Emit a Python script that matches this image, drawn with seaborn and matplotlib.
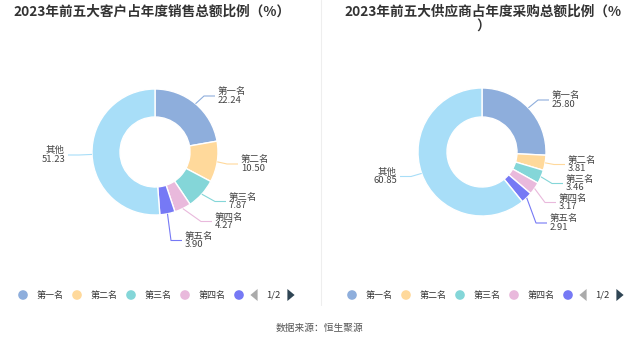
import numpy as np
import pandas as pd
import matplotlib
matplotlib.use("Agg")
import matplotlib.pyplot as plt
import seaborn as sns

sns.set_theme(style="white")
plt.rcParams["font.family"] = ["Noto Sans CJK SC", "DejaVu Sans"]

# ---------------- data ----------------
categories = ["第一名", "第二名", "第三名", "第四名", "第五名", "其他"]
customer_share = [22.24, 10.50, 7.87, 4.27, 3.90, 51.23]
supplier_share = [25.80, 3.81, 3.46, 3.17, 2.91, 60.85]
titles = ["2023年前五大客户占年度销售总额比例（%）",
          "2023年前五大供应商占年度采购总额比例（%\n）"]
legend_labels = categories[:5]
source_text = "数据来源：恒生聚源"

# ---------------- style / layout ----------------
colors = ["#8eaedc", "#ffd99b", "#84d6d8", "#e9b9dc", "#7679f5", "#a8def8"]
W, H = 637, 344
TXT = "#444444"

panels = [
    dict(data=customer_share, cx=155, cy=152, ro=63, ri=35, title_x=152,
         labels=[(218, 96, "left"), (241, 164, "left"), (229, 201.5, "left"),
                 (215, 221.5, "left"), (185, 240.5, "left"), (65, 155, "right")],
         leg_x=23),
    dict(data=supplier_share, cx=482, cy=152, ro=64, ri=35, title_x=483,
         labels=[(552, 100, "left"), (568, 164.5, "left"), (566, 183.5, "left"),
                 (559, 202.5, "left"), (550, 223, "left"), (397, 176.5, "right")],
         leg_x=352),
]

fig = plt.figure(figsize=(W / 100, H / 100), dpi=100)
fig.patch.set_facecolor("white")
ax = fig.add_axes([0, 0, 1, 1])

def Y(y):
    return H - y

for k, p in enumerate(panels):
    df = pd.DataFrame({"cat": categories, "val": p["data"]})
    ax.pie(df["val"], colors=colors, startangle=90, counterclock=False,
           center=(p["cx"], Y(p["cy"])), radius=p["ro"], frame=True,
           wedgeprops=dict(width=p["ro"] - p["ri"], edgecolor="white", linewidth=1.0))
    # labels with leader lines
    total = df["val"].sum()
    cum = 0.0
    for i, (cat, v) in enumerate(zip(df["cat"], df["val"])):
        mid = (cum + v / 2) / total * 2 * np.pi
        cum += v
        ax_x = p["cx"] + p["ro"] * np.sin(mid)
        ax_y = p["cy"] - p["ro"] * np.cos(mid)
        lx, ly, ha = p["labels"][i]
        if ha == "left":
            end = lx - 3
            elbow = end - 11
        else:
            end = lx + 3
            elbow = end + 11
        ax.plot([ax_x, elbow, end], [Y(ax_y), Y(ly), Y(ly)], color=colors[i], lw=0.8,
                solid_capstyle="butt")
        ax.text(lx, Y(ly - 4.4), cat, ha=ha, va="center", fontsize=6.8, color=TXT)
        ax.text(lx, Y(ly + 4.4), f"{v:.2f}", ha=ha, va="center", fontsize=6.8, color=TXT)

    # title
    ax.text(p["title_x"], Y(5), titles[k], ha="center", va="top",
            fontsize=9.8, fontweight="bold", color="#333333", linespacing=1.1)

    # legend
    x0 = p["leg_x"]
    for j, lab in enumerate(legend_labels):
        xc = x0 + j * 54
        ax.scatter([xc], [Y(295)], s=48, color=colors[j], edgecolors="none")
        if j < 4:
            ax.text(xc + 14, Y(295), lab, ha="left", va="center", fontsize=6.5, color="#333333")
    xa = x0 + 231
    ax.scatter([xa], [Y(295)], s=75, marker=[(-0.6, 0), (0.6, 1), (0.6, -1)],
               color="#aaaaaa", edgecolors="none")
    ax.text(xa + 19, Y(295), "1/2", ha="center", va="center", fontsize=6.8, color="#333333")
    ax.scatter([xa + 37], [Y(295)], s=75, marker=[(0.6, 0), (-0.6, 1), (-0.6, -1)],
               color="#2f4554", edgecolors="none")

# divider
ax.plot([321, 321], [Y(0), Y(305)], color="#eeeeee", lw=0.8)
# source
ax.text(320, Y(328), source_text, ha="center", va="center", fontsize=7, color="#555555")

ax.set_xlim(0, W)
ax.set_ylim(0, H)
ax.set_aspect("equal")
ax.axis("off")

fig.savefig("out.png", dpi=100, facecolor="white")
